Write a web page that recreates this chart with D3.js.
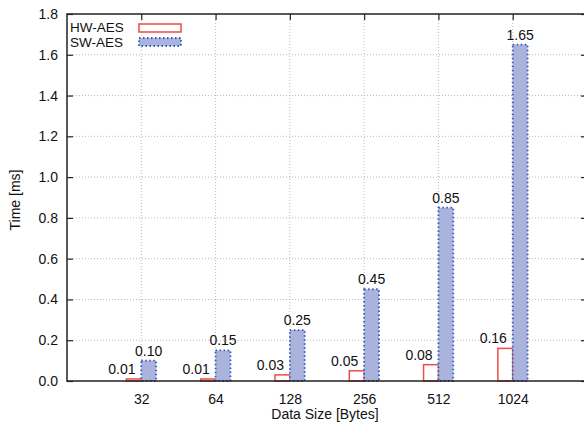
<!DOCTYPE html>
<html>
<head>
<meta charset="utf-8">
<script src="https://cdn.jsdelivr.net/npm/d3@7"></script>
<style>
  body { margin: 0; background: #fff; overflow: hidden; }
  text { font-family: "Liberation Sans", Arial, sans-serif; fill: #111; }
</style>
</head>
<body>
<svg id="chart" width="584" height="427"></svg>
<script>
// data
var sizes = ['32', '64', '128', '256', '512', '1024'];
var hw_aes = [0.01, 0.01, 0.03, 0.05, 0.08, 0.16];
var sw_aes = [0.10, 0.15, 0.25, 0.45, 0.85, 1.65];
var y_ticks = [0, 0.2, 0.4, 0.6, 0.8, 1.0, 1.2, 1.4, 1.6, 1.8];

var svg = d3.select('#chart');
var margin = {left: 67, right: 587, top: 14, bottom: 381};
var font_size = '14px';

// categories sit at 1..6 on a 0..7 axis
var x_scale = d3.scaleLinear().domain([0, 7]).range([margin.left, margin.right]);
var y_scale = d3.scaleLinear().domain([0, 1.8]).range([margin.bottom, margin.top]);
var bar_w = x_scale(0.2) - x_scale(0);

// grid
////////////////////////////////////////////
var grid = svg.append('g').attr('class', 'grid');
grid.selectAll('.hgrid')
  .data(y_ticks.slice(1, -1))
  .enter().append('line')
  .attr('x1', margin.left).attr('x2', margin.right)
  .attr('y1', function(d){ return y_scale(d); })
  .attr('y2', function(d){ return y_scale(d); })
  .style('stroke', '#aaa').style('stroke-width', 0.8)
  .style('stroke-dasharray', '1,2');

grid.selectAll('.vgrid')
  .data(sizes)
  .enter().append('line')
  .attr('x1', function(d, i){ return x_scale(i + 1); })
  .attr('x2', function(d, i){ return x_scale(i + 1); })
  .attr('y1', margin.top).attr('y2', margin.bottom)
  .style('stroke', '#aaa').style('stroke-width', 0.8)
  .style('stroke-dasharray', '1,2');

// bars
////////////////////////////////////////////
svg.append('g').selectAll('rect')
  .data(hw_aes)
  .enter().append('rect')
  .attr('x', function(d, i){ return x_scale(i + 1) - bar_w; })
  .attr('y', function(d){ return y_scale(d); })
  .attr('width', bar_w)
  .attr('height', function(d){ return y_scale(0) - y_scale(d); })
  .style('fill', '#fff')
  .style('stroke', '#ee4b45').style('stroke-width', 1.5);

svg.append('g').selectAll('rect')
  .data(sw_aes)
  .enter().append('rect')
  .attr('x', function(d, i){ return x_scale(i + 1); })
  .attr('y', function(d){ return y_scale(d); })
  .attr('width', bar_w)
  .attr('height', function(d){ return y_scale(0) - y_scale(d); })
  .style('fill', '#aab3dc')
  .style('stroke', '#3557be').style('stroke-width', 1.8)
  .style('stroke-dasharray', '1.5,2.5');

// value labels
svg.append('g').selectAll('text')
  .data(hw_aes)
  .enter().append('text')
  .attr('x', function(d, i){ return x_scale(i + 1) - bar_w / 2 - 12; })
  .attr('y', function(d){ return y_scale(d) - 5; })
  .attr('text-anchor', 'middle')
  .style('font-size', font_size)
  .text(function(d){ return d.toFixed(2); });

svg.append('g').selectAll('text')
  .data(sw_aes)
  .enter().append('text')
  .attr('x', function(d, i){ return x_scale(i + 1) + bar_w / 2; })
  .attr('y', function(d){ return y_scale(d) - 5; })
  .attr('text-anchor', 'middle')
  .style('font-size', font_size)
  .text(function(d){ return d.toFixed(2); });

// axes
////////////////////////////////////////////
var y_axis = d3.axisLeft(y_scale).tickValues(y_ticks)
  .tickSize(-6).tickPadding(9)
  .tickFormat(d3.format('.1f'));
var y_g = svg.append('g').attr('transform', 'translate(' + margin.left + ',0)').call(y_axis);

var y_axis_r = d3.axisRight(y_scale).tickValues(y_ticks).tickSize(-6).tickFormat('');
var y_gr = svg.append('g').attr('transform', 'translate(' + margin.right + ',0)').call(y_axis_r);

var x_axis = d3.axisBottom(x_scale).tickValues(d3.range(1, 7))
  .tickSize(0).tickPadding(13)
  .tickFormat(function(d){ return sizes[d - 1]; });
var x_g = svg.append('g').attr('transform', 'translate(0,' + margin.bottom + ')').call(x_axis);

var x_axis_t = d3.axisTop(x_scale).tickValues(d3.range(1, 7)).tickSize(-6).tickFormat('');
var x_gt = svg.append('g').attr('transform', 'translate(0,' + margin.top + ')').call(x_axis_t);

[y_g, y_gr, x_g, x_gt].forEach(function(g){
  g.select('.domain').remove();
  g.selectAll('line').style('stroke', '#222').style('stroke-width', 1.2);
  g.selectAll('text').style('font-size', font_size).style('fill', '#111')
    .style('font-family', '"Liberation Sans", Arial, sans-serif');
});

// frame
svg.append('rect')
  .attr('x', margin.left).attr('y', margin.top)
  .attr('width', margin.right - margin.left)
  .attr('height', margin.bottom - margin.top)
  .style('fill', 'none').style('stroke', '#222').style('stroke-width', 1.5);

// axis titles
svg.append('text')
  .attr('x', 325)
  .attr('y', 419)
  .attr('text-anchor', 'middle')
  .style('font-size', font_size)
  .text('Data Size [Bytes]');

svg.append('text')
  .attr('transform', 'translate(20,200) rotate(-90)')
  .attr('text-anchor', 'middle')
  .style('font-size', font_size)
  .text('Time [ms]');

// legend
var legend = svg.append('g');
legend.append('text').attr('x', 70).attr('y', 32).style('font-size', '13.5px').text('HW-AES');
legend.append('text').attr('x', 70).attr('y', 47).style('font-size', '13.5px').text('SW-AES');
legend.append('rect').attr('x', 139).attr('y', 24).attr('width', 42).attr('height', 8)
  .style('fill', '#fff').style('stroke', '#ee4b45').style('stroke-width', 1.5);
legend.append('rect').attr('x', 139).attr('y', 38).attr('width', 42).attr('height', 8)
  .style('fill', '#aab3dc').style('stroke', '#3557be').style('stroke-width', 1.8)
  .style('stroke-dasharray', '1.5,2.5');
</script>
</body>
</html>
